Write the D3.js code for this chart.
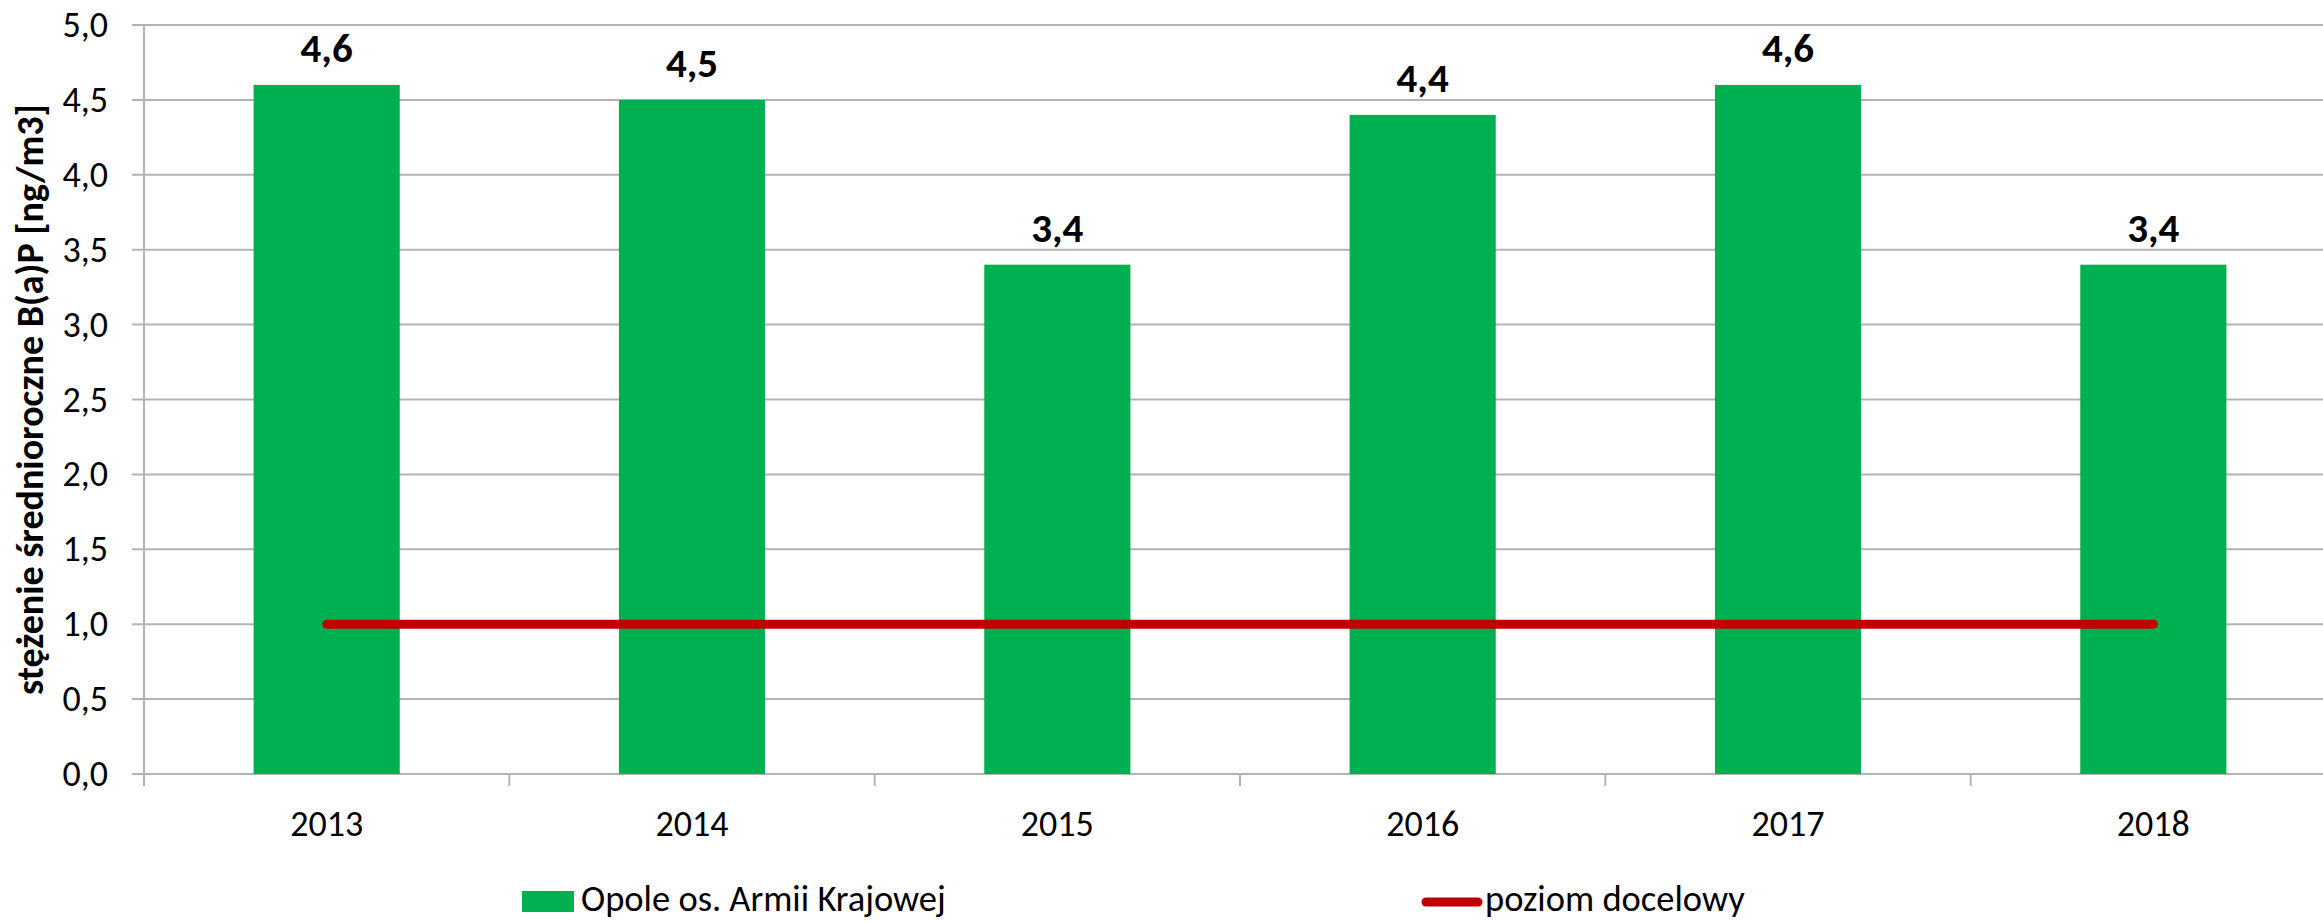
<!DOCTYPE html>
<html>
<head>
<meta charset="utf-8">
<script src="https://cdn.jsdelivr.net/npm/d3@7"></script>
<style>
  html, body { margin: 0; padding: 0; background: #fff; }
  svg { display: block; font-family: Carlito, Calibri, 'Open Sans', sans-serif; }
</style>
</head>
<body>
<svg id="chart" width="2323" height="922"></svg>
<script>
const years = ['2013', '2014', '2015', '2016', '2017', '2018'];
const concentration = [4.6, 4.5, 3.4, 4.4, 4.6, 3.4];
const targetLevel = [1.0, 1.0, 1.0, 1.0, 1.0, 1.0];
const yTicks = [0, 0.5, 1, 1.5, 2, 2.5, 3, 3.5, 4, 4.5, 5];
const seriesNames = ['Opole os. Armii Krajowej', 'poziom docelowy'];
const yTitle = 'stężenie średnioroczne B(a)P [ng/m3]';

const svg = d3.select('#chart');
const margin = {top: 25, right: -13, bottom: 148, left: 144};
const width = +svg.attr('width');
const height = +svg.attr('height');
const chartRight = width - margin.right;
const chartBottom = height - margin.bottom;

const gridColor = '#b3b3b3';
const barColor = '#00b050';
const lineColor = '#c00000';
const fmt = (v) => d3.format('.1f')(v).replace('.', ',');

const xScale = d3.scaleBand().domain(years).range([margin.left, chartRight]).padding(0);
const yScale = d3.scaleLinear().domain([0, 5]).range([chartBottom, margin.top]);
const barWidth = xScale.bandwidth() * 0.4;

// gridlines
svg.append('g')
  .selectAll('line')
  .data(yTicks)
  .join('line')
  .attr('x1', margin.left - 12)
  .attr('x2', chartRight)
  .attr('y1', (d) => yScale(d))
  .attr('y2', (d) => yScale(d))
  .attr('stroke', gridColor)
  .attr('stroke-width', 2);

// y axis
const yAxis = d3.axisLeft(yScale).tickValues(yTicks).tickFormat(fmt).tickSize(0).tickPadding(36);
svg.append('g')
  .attr('transform', `translate(${margin.left},0)`)
  .call(yAxis)
  .attr('font-family', null)
  .attr('font-size', null)
  .call((g) => g.select('.domain').remove())
  .selectAll('text')
  .attr('font-size', '36px')
  .attr('fill', '#000');

svg.append('line')
  .attr('x1', margin.left).attr('x2', margin.left)
  .attr('y1', margin.top).attr('y2', chartBottom + 12)
  .attr('stroke', gridColor).attr('stroke-width', 2);

// x axis
const xAxis = d3.axisBottom(xScale).tickSize(0).tickPadding(36);
svg.append('g')
  .attr('transform', `translate(0,${chartBottom})`)
  .call(xAxis)
  .attr('font-family', null)
  .attr('font-size', null)
  .call((g) => g.select('.domain').remove())
  .selectAll('text')
  .attr('font-size', '36px')
  .attr('fill', '#000');

svg.append('g')
  .selectAll('line')
  .data(years.slice(1))
  .join('line')
  .attr('x1', (d) => xScale(d)).attr('x2', (d) => xScale(d))
  .attr('y1', chartBottom).attr('y2', chartBottom + 12)
  .attr('stroke', gridColor).attr('stroke-width', 2);

// bars
svg.append('g')
  .selectAll('rect')
  .data(concentration)
  .join('rect')
  .attr('x', (d, i) => xScale(years[i]) + (xScale.bandwidth() - barWidth) / 2)
  .attr('y', (d) => yScale(d))
  .attr('width', barWidth)
  .attr('height', (d) => chartBottom - yScale(d))
  .attr('fill', barColor);

// value labels
svg.append('g')
  .selectAll('text')
  .data(concentration)
  .join('text')
  .attr('x', (d, i) => xScale(years[i]) + xScale.bandwidth() / 2)
  .attr('y', (d) => yScale(d) - 23)
  .attr('text-anchor', 'middle')
  .attr('font-size', '41px')
  .attr('font-weight', 'bold')
  .text(fmt);

// target line
const line = d3.line()
  .x((d, i) => xScale(years[i]) + xScale.bandwidth() / 2)
  .y((d) => yScale(d));
svg.append('path')
  .datum(targetLevel)
  .attr('d', line)
  .attr('fill', 'none')
  .attr('stroke', lineColor)
  .attr('stroke-width', 9)
  .attr('stroke-linecap', 'round');

// y title
svg.append('text')
  .attr('transform', `translate(43,${(margin.top + chartBottom) / 2}) rotate(-90)`)
  .attr('text-anchor', 'middle')
  .attr('font-size', '38px')
  .attr('font-weight', 'bold')
  .text(yTitle);

// legend (kept just inside the bottom edge so descenders are not clipped)
const legend = svg.append('g');
legend.append('rect')
  .attr('x', 522).attr('y', 891).attr('width', 52).attr('height', 21)
  .attr('fill', barColor);
legend.append('text')
  .attr('x', 581).attr('y', 911)
  .attr('font-size', '36.5px')
  .text(seriesNames[0]);
legend.append('line')
  .attr('x1', 1426).attr('x2', 1478).attr('y1', 902).attr('y2', 902)
  .attr('stroke', lineColor).attr('stroke-width', 9).attr('stroke-linecap', 'round');
legend.append('text')
  .attr('x', 1485).attr('y', 911)
  .attr('font-size', '36.5px')
  .text(seriesNames[1]);
</script>
</body>
</html>
